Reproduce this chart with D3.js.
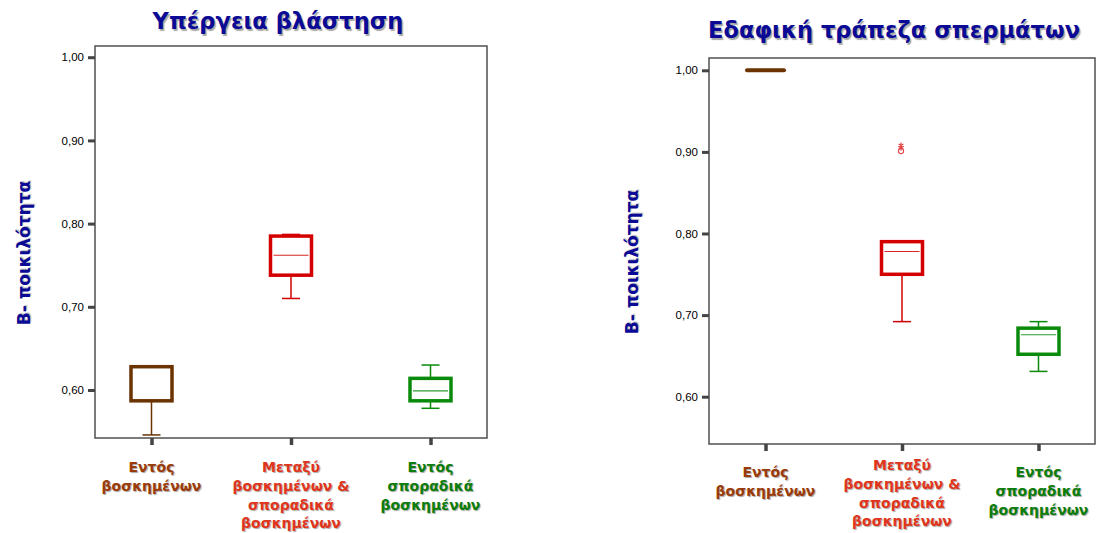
<!DOCTYPE html>
<html>
<head>
<meta charset="utf-8">
<script src="https://cdn.jsdelivr.net/npm/d3@7"></script>
<style>
  html, body { margin: 0; padding: 0; background: #fff; }
  svg { display: block; }
</style>
</head>
<body>
<svg id="chart" width="1098" height="533"></svg>
<script>
// Category labels (one entry per box, lines split with "\n")
const categories = [
  "Εντός\nβοσκημένων",
  "Μεταξύ\nβοσκημένων &\nσποραδικά\nβοσκημένων",
  "Εντός\nσποραδικά\nβοσκημένων"
];
const yTicks = [0.6, 0.7, 0.8, 0.9, 1.0];
const yLabel = "Β- ποικιλότητα";

// Υπέργεια βλάστηση: [min, q1, median, q3, max] per category
const titleA = "Υπέργεια βλάστηση";
const statsA = [
  [0.546, 0.587, 0.628, 0.628, 0.628],
  [0.710, 0.738, 0.762, 0.785, 0.787],
  [0.578, 0.587, 0.599, 0.614, 0.630]
];
const outliersA = [[], [], []];

// Εδαφική τράπεζα σπερμάτων
const titleB = "Εδαφική τράπεζα σπερμάτων";
const statsB = [
  [1.000, 1.000, 1.000, 1.000, 1.000],
  [0.692, 0.750, 0.778, 0.790, 0.790],
  [0.631, 0.652, 0.676, 0.684, 0.692]
];
const outliersB = [[], [0.908, 0.905], []];
const extremesB = [[], [0.901], []];

const boxColors = ["#6b3300", "#d40000", "#0a8a0a"];
const labelColors = ["#9a3a08", "#e0351c", "#0a7d0a"];
const navy = "#0a0a96";

const svg = d3.select("#chart");
const fmt = d => d3.format(".2f")(d).replace(".", ",");

function panel(cfg) {
  const { frame, domain, stats, outliers, extremes, title, titlePos, yLabelPos, labelTop } = cfg;
  const g = svg.append("g");

  const x = d3.scalePoint().domain(d3.range(categories.length))
    .range([frame.x0, frame.x1]).padding(cfg.pad);
  const y = d3.scaleLinear().domain(domain).range([frame.y1, frame.y0]);

  // frame
  g.append("rect")
    .attr("x", frame.x0).attr("y", frame.y0)
    .attr("width", frame.x1 - frame.x0).attr("height", frame.y1 - frame.y0)
    .attr("fill", "none").attr("stroke", "#5a5a5a").attr("stroke-width", 1.6);

  // y axis
  const ya = g.append("g").attr("transform", `translate(${frame.x0},0)`)
    .call(d3.axisLeft(y).tickValues(yTicks).tickFormat(fmt).tickSize(7).tickPadding(4));
  ya.select(".domain").remove();
  ya.selectAll(".tick line").attr("stroke", "#444").attr("stroke-width", 3);
  ya.selectAll(".tick text").attr("font-family", "Liberation Sans, Arial, sans-serif")
    .attr("font-size", 11.5).attr("fill", "#000");

  // x axis ticks
  const xa = g.append("g").attr("transform", `translate(0,${frame.y1})`)
    .call(d3.axisBottom(x).tickSize(7).tickFormat(""));
  xa.select(".domain").remove();
  xa.selectAll(".tick line").attr("stroke", "#444").attr("stroke-width", 3.5);

  const bw = 41, cw = 18;
  stats.forEach((s, i) => {
    const [mn, q1, md, q3, mx] = s;
    const cx = x(i), col = boxColors[i];
    const b = g.append("g");
    if (q3 === q1) {
      b.append("line").attr("x1", cx - bw / 2 + 2).attr("x2", cx + bw / 2 - 2)
        .attr("y1", y(q1)).attr("y2", y(q1))
        .attr("stroke", col).attr("stroke-width", 4).attr("stroke-linecap", "round");
      return;
    }
    // whiskers
    [[mn, q1], [q3, mx]].forEach(([a, c]) => {
      if (a === c) return;
      b.append("line").attr("x1", cx).attr("x2", cx).attr("y1", y(a)).attr("y2", y(c))
        .attr("stroke", col).attr("stroke-width", 1.5);
    });
    [mn, mx].forEach(v => {
      if (v === q1 || v === q3) return;
      b.append("line").attr("x1", cx - cw / 2).attr("x2", cx + cw / 2).attr("y1", y(v)).attr("y2", y(v))
        .attr("stroke", col).attr("stroke-width", 1.5);
    });
    // box
    b.append("rect").attr("x", cx - bw / 2).attr("y", y(q3))
      .attr("width", bw).attr("height", y(q1) - y(q3))
      .attr("fill", "none").attr("stroke", col).attr("stroke-width", 3.5);
    // median
    if (md !== q1 && md !== q3) {
      b.append("line").attr("x1", cx - bw / 2 + 3).attr("x2", cx + bw / 2 - 3)
        .attr("y1", y(md)).attr("y2", y(md))
        .attr("stroke", col).attr("stroke-width", 1.1).attr("opacity", 0.85);
    }
  });

  // outliers (asterisks) and extremes (circles)
  (outliers || []).forEach((arr, i) => arr.forEach(v => {
    g.append("path").attr("d", d3.symbol(d3.symbolAsterisk || d3.symbolCross, 22)())
      .attr("transform", `translate(${x(i) - 1},${y(v)})`)
      .attr("fill", "none").attr("stroke", "#e04848").attr("stroke-width", 1.2);
  }));
  (extremes || []).forEach((arr, i) => arr.forEach(v => {
    g.append("circle").attr("cx", x(i) - 1).attr("cy", y(v)).attr("r", 2.6)
      .attr("fill", "none").attr("stroke", "#e04848").attr("stroke-width", 1.1);
  }));

  // category labels
  categories.forEach((c, i) => {
    const lines = c.split("\n");
    const t = g.append("text").attr("text-anchor", "middle")
      .attr("font-family", "DejaVu Sans, Verdana, sans-serif").attr("font-weight", "bold")
      .attr("font-size", 14).attr("fill", labelColors[i])
      .style("text-shadow", "1px 1px 1px rgba(0,0,0,0.35)");
    lines.forEach((l, k) => {
      t.append("tspan").attr("x", x(i)).attr("y", labelTop[i] + k * 18.8).text(l);
    });
  });

  // title
  g.append("text").attr("x", titlePos[0]).attr("y", titlePos[1])
    .attr("text-anchor", "middle")
    .attr("font-family", "DejaVu Sans, Verdana, sans-serif").attr("font-weight", "bold")
    .attr("font-size", titlePos[2]).attr("fill", navy)
    .style("text-shadow", "1.5px 1.5px 1px rgba(0,0,0,0.35)")
    .text(title);

  // y label
  g.append("text")
    .attr("transform", `translate(${yLabelPos[0]},${yLabelPos[1]}) rotate(-90)`)
    .attr("text-anchor", "middle")
    .attr("font-family", "DejaVu Sans, Verdana, sans-serif").attr("font-weight", "bold")
    .attr("font-size", 17).attr("fill", navy)
    .style("text-shadow", "1px 1px 1px rgba(0,0,0,0.3)")
    .text(yLabel);
}

panel({
  frame: { x0: 95, x1: 487, y0: 46, y1: 438 },
  pad: 0.405,
  domain: [0.6 - 48 / 832, 0.6 + 344 / 832],
  stats: statsA, outliers: outliersA,
  title: titleA, titlePos: [278, 29, 22.6],
  yLabelPos: [30, 253],
  labelTop: [472, 472, 472]
});

panel({
  frame: { x0: 709, x1: 1095, y0: 58, y1: 444 },
  pad: 0.414,
  domain: [0.6 - 47.3 / 816, 0.6 + 338.7 / 816],
  stats: statsB, outliers: outliersB, extremes: extremesB,
  title: titleB, titlePos: [894, 38, 22.6],
  yLabelPos: [638, 262],
  labelTop: [477, 470, 477]
});
</script>
</body>
</html>
